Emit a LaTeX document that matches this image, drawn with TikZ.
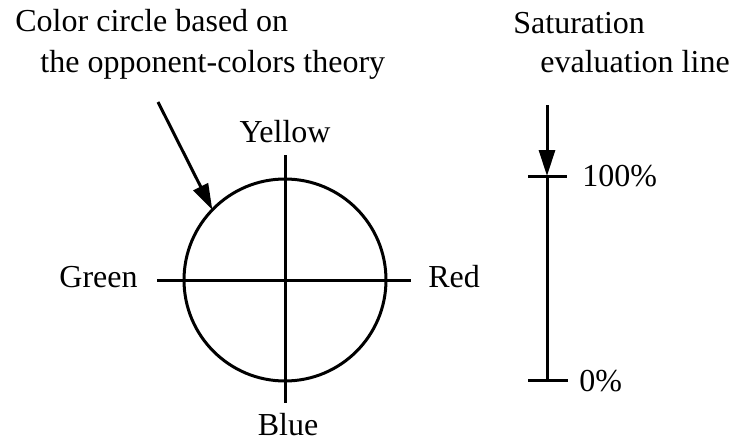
\documentclass[tikz,border=0pt]{standalone}
\usepackage{fontspec}
\setmainfont{Liberation Serif}
\usetikzlibrary{arrows.meta}
\begin{document}
\begin{tikzpicture}[x=0.5pt,y=-0.5pt,
    lbl/.style={font=\fontsize{16}{19}\selectfont,inner sep=0pt},
    ln/.style={line width=1.5pt},
    pointer/.style={ln,-{Triangle[length=13pt,width=8pt]}}]
    \useasboundingbox (0,0) rectangle (746,439);
    % headings
    \node[lbl,anchor=base west] (head1) at (15,32) {Color circle based on};
    \node[lbl,anchor=base west] (head2) at (40,72) {the opponent-colors theory};
    \node[lbl,anchor=base west] (head3) at (513,33) {Saturation};
    \node[lbl,anchor=base west] (head4) at (540,72) {evaluation line};
    % colour circle with its two axes
    \node[ln,draw,circle,minimum size=101pt,inner sep=0pt,outer sep=0pt] (circ) at (285,280) {};
    \coordinate (west) at (157,280);
    \coordinate (east) at (411,280);
    \coordinate (north) at (285,155);
    \coordinate (south) at (285,403);
    \draw[ln] (west) -- (east);
    \draw[ln] (north) -- (south);
    \node[lbl,anchor=base] (yellow) at (285,142) {Yellow};
    \node[lbl,anchor=base east] (green) at (138,287) {Green};
    \node[lbl,anchor=base west] (red) at (428,287) {Red};
    \node[lbl,anchor=base] (blue) at (288,435) {Blue};
    % pointer to the circle
    \coordinate (circtail) at (158,102);
    \draw[pointer] (circtail) -- (circ.136);
    % saturation line
    \coordinate (sattail) at (547,105);
    \coordinate (sattop) at (547,176);
    \coordinate (satbot) at (547,380);
    \draw[pointer] (sattail) -- (sattop);
    \draw[ln] (sattop) -- (satbot);
    \draw[ln] ([xshift=-9.5pt]sattop) -- ([xshift=10pt]sattop);
    \draw[ln] ([xshift=-9.5pt]satbot) -- ([xshift=10.5pt]satbot);
    \node[lbl,anchor=base west] (full) at (582,186) {100\%};
    \node[lbl,anchor=base west] (zero) at (579,391) {0\%};
\end{tikzpicture}
\end{document}
